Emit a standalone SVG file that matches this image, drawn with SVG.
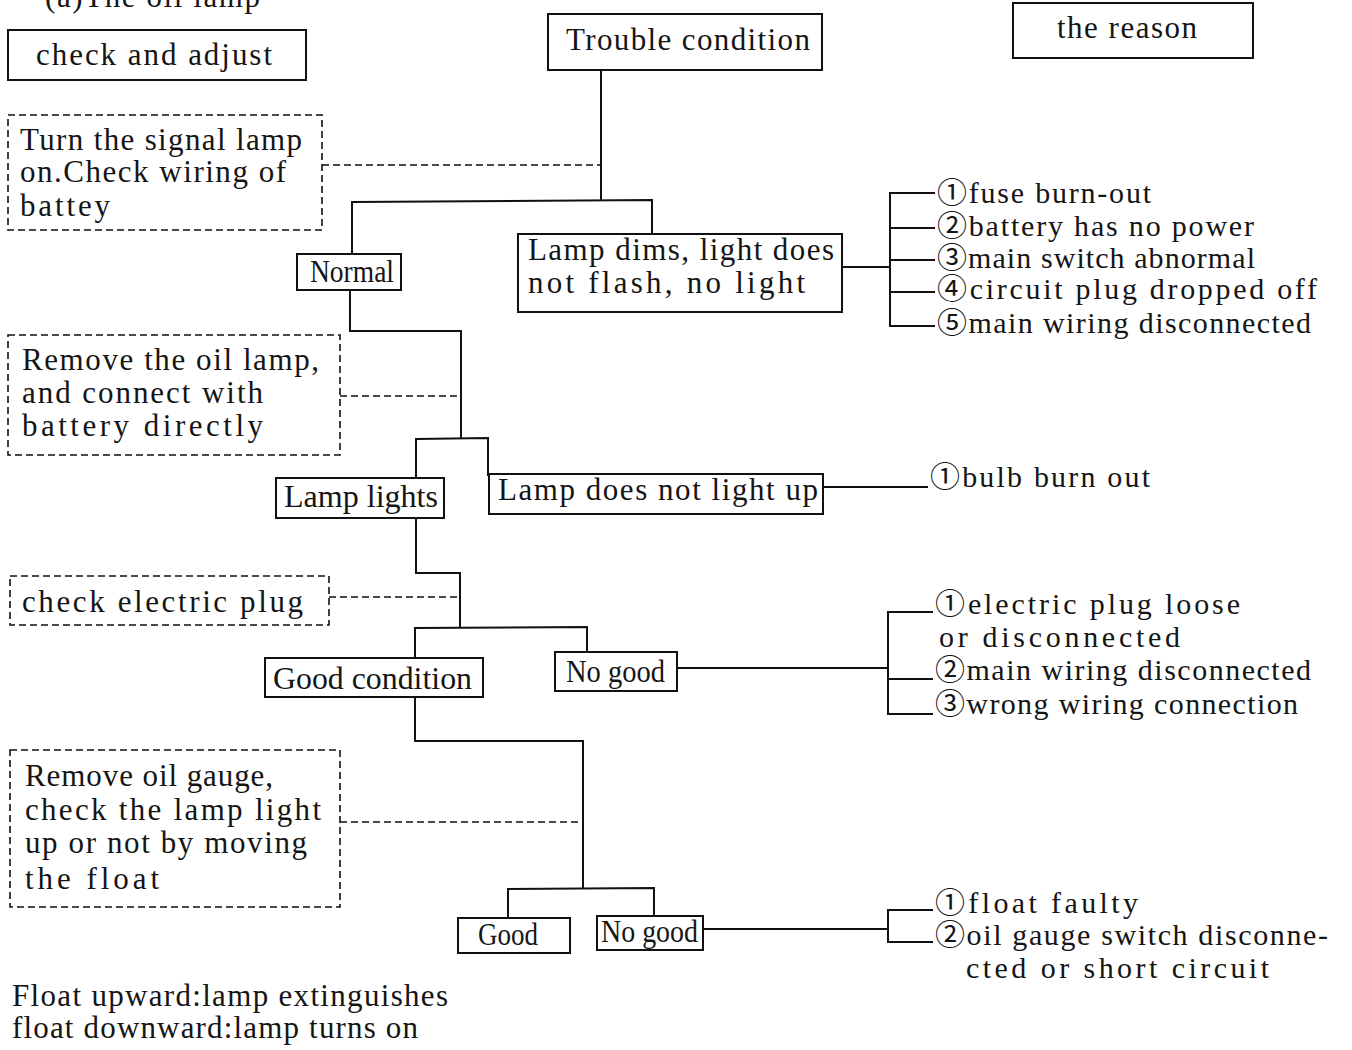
<svg xmlns="http://www.w3.org/2000/svg" width="1352" height="1050" viewBox="0 0 1352 1050">
<style>
text{font-family:"Liberation Serif","Noto Sans CJK JP",serif;font-size:31px;fill:#151515}
.r{font-size:30px}
.box{fill:#fff;stroke:#111;stroke-width:2}
.dbox{fill:none;stroke:#111;stroke-width:1.6;stroke-dasharray:7 4}
.ln{fill:none;stroke:#111;stroke-width:2}
.dl{fill:none;stroke:#111;stroke-width:1.6;stroke-dasharray:7 4}
</style>
<rect width="1352" height="1050" fill="#fff"/>
<text x="45" y="7" textLength="215">(a)The oil lamp</text>

<g id="connectors">
<polyline class="ln" points="601,70 601,200"/>
<polyline class="dl" points="322,165 601,165"/>
<polyline class="ln" points="352,254 352,202 652,200 652,236"/>
<polyline class="ln" points="842,267 890,267"/>
<polyline class="ln" points="935,193 890,193 890,326 935,326"/>
<line class="ln" x1="890" y1="228" x2="935" y2="228"/>
<line class="ln" x1="890" y1="260" x2="935" y2="260"/>
<line class="ln" x1="890" y1="292" x2="935" y2="292"/>
<polyline class="ln" points="350,290 350,331 461,331 461,438"/>
<polyline class="dl" points="340,396 461,396"/>
<polyline class="ln" points="416,478 416,439 488,438 488,476"/>
<polyline class="ln" points="823,487 928,487"/>
<polyline class="ln" points="416,518 416,573 460,573 460,627"/>
<polyline class="dl" points="329,597 460,597"/>
<polyline class="ln" points="415,660 415,628 587,627 587,654"/>
<polyline class="ln" points="677,668 888,668"/>
<polyline class="ln" points="933,612 888,612 888,714 933,714"/>
<line class="ln" x1="888" y1="679" x2="933" y2="679"/>
<polyline class="ln" points="415,697 415,741 583,741 583,888"/>
<polyline class="dl" points="340,822 583,822"/>
<polyline class="ln" points="508,918 508,889 654,888 654,916"/>
<polyline class="ln" points="703,929 888,929"/>
<polyline class="ln" points="933,910 888,910 888,942 933,942"/>
</g>

<g id="hdr-check"><rect class="box" x="8" y="30" width="298" height="50"/><text x="36" y="65" textLength="236">check and adjust</text></g>
<g id="hdr-trouble"><rect class="box" x="548" y="14" width="274" height="56"/><text x="566" y="50" textLength="244">Trouble condition</text></g>
<g id="hdr-reason"><rect class="box" x="1013" y="3" width="240" height="55"/><text x="1057" y="38" textLength="140">the reason</text></g>

<g id="step1"><rect class="dbox" x="8" y="115" width="314" height="115"/>
<text x="20" y="150" textLength="282">Turn the signal lamp</text>
<text x="20" y="182" textLength="266">on.Check wiring of</text>
<text x="20" y="216" textLength="90">battey</text></g>

<g id="normal"><rect class="box" x="297" y="254" width="104" height="36"/><text x="310" y="282" textLength="84" lengthAdjust="spacingAndGlyphs">Normal</text></g>
<g id="dims"><rect class="box" x="518" y="234" width="324" height="78"/>
<text x="528" y="260" textLength="306">Lamp dims, light does</text>
<text x="528" y="293" textLength="277">not flash, no light</text></g>
<g id="reasons1">
<text class="r" x="937" y="203" textLength="214">①fuse burn-out</text>
<text class="r" x="937" y="236" textLength="317">②battery has no power</text>
<text class="r" x="937" y="268" textLength="318">③main switch abnormal</text>
<text class="r" x="937" y="299" textLength="380">④circuit plug dropped off</text>
<text class="r" x="937" y="333" textLength="374">⑤main wiring disconnected</text></g>

<g id="step2"><rect class="dbox" x="8" y="335" width="332" height="120"/>
<text x="22" y="370" textLength="297">Remove the oil lamp,</text>
<text x="22" y="403" textLength="241">and connect with</text>
<text x="22" y="436" textLength="241">battery directly</text></g>

<g id="lights"><rect class="box" x="276" y="478" width="168" height="40"/><text x="284" y="507" textLength="154" lengthAdjust="spacingAndGlyphs">Lamp lights</text></g>
<g id="nolight"><rect class="box" x="489" y="474" width="334" height="40"/><text x="498" y="500" textLength="320">Lamp does not light up</text></g>
<g id="reasons2"><text class="r" x="930" y="487" textLength="220">①bulb burn out</text></g>

<g id="step3"><rect class="dbox" x="10" y="576" width="319" height="49"/>
<text x="22" y="612" textLength="281">check electric plug</text></g>

<g id="goodcond"><rect class="box" x="265" y="658" width="218" height="39"/><text x="273" y="689" textLength="199" lengthAdjust="spacingAndGlyphs">Good condition</text></g>
<g id="nogood1"><rect class="box" x="555" y="652" width="122" height="39"/><text x="566" y="682" textLength="99" lengthAdjust="spacingAndGlyphs">No good</text></g>
<g id="reasons3">
<text class="r" x="935" y="614" textLength="305">①electric plug loose</text>
<text class="r" x="939" y="647" textLength="241">or disconnected</text>
<text class="r" x="935" y="680" textLength="376">②main wiring disconnected</text>
<text class="r" x="935" y="714" textLength="363">③wrong wiring connection</text></g>

<g id="step4"><rect class="dbox" x="10" y="750" width="330" height="157"/>
<text x="25" y="786" textLength="248">Remove oil gauge,</text>
<text x="25" y="820" textLength="296">check the lamp light</text>
<text x="25" y="853" textLength="282">up or not by moving</text>
<text x="25" y="889" textLength="134">the float</text></g>

<g id="good"><rect class="box" x="458" y="918" width="112" height="35"/><text x="478" y="945" textLength="60" lengthAdjust="spacingAndGlyphs">Good</text></g>
<g id="nogood2"><rect class="box" x="597" y="916" width="106" height="34"/><text x="601" y="942" textLength="97" lengthAdjust="spacingAndGlyphs">No good</text></g>
<g id="reasons4">
<text class="r" x="935" y="913" textLength="203">①float faulty</text>
<text class="r" x="935" y="945" textLength="393">②oil gauge switch disconne-</text>
<text class="r" x="966" y="978" textLength="303">cted or short circuit</text></g>

<g id="note">
<text x="12" y="1006" textLength="436">Float upward:lamp extinguishes</text>
<text x="12" y="1038" textLength="406">float downward:lamp turns on</text></g>
</svg>
